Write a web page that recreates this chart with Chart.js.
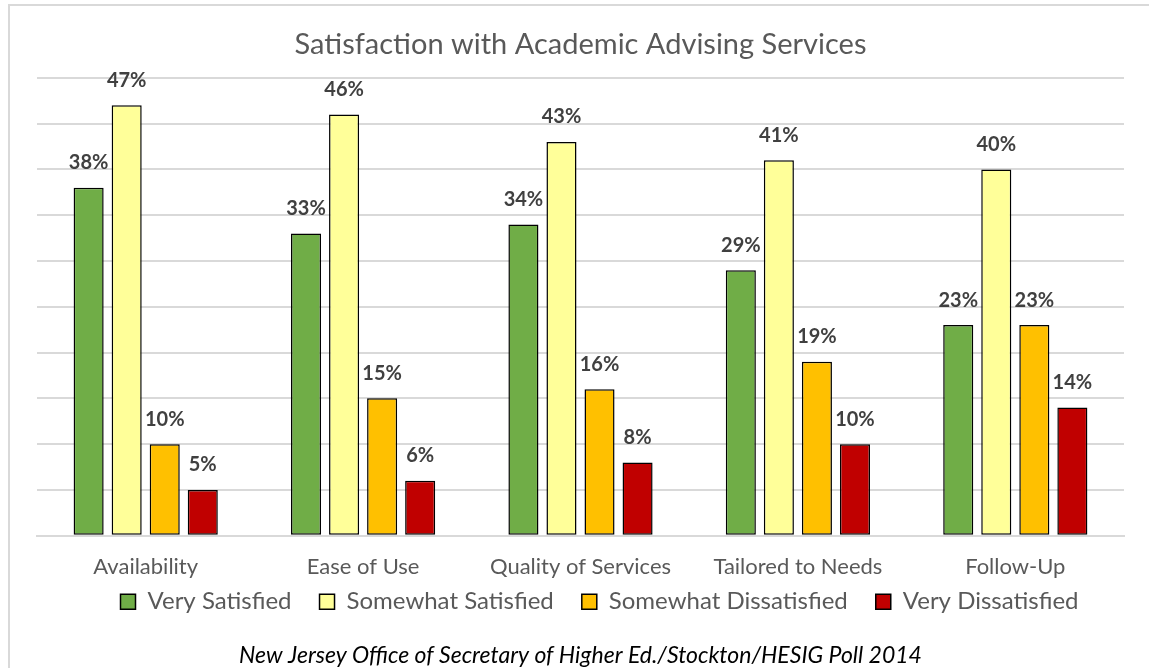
<!DOCTYPE html>
<html>
<head>
<meta charset="utf-8">
<title>Satisfaction with Academic Advising Services</title>
<script src="https://cdn.jsdelivr.net/npm/chart.js@4.4.1/dist/chart.umd.min.js"></script>
<style>
    html, body { margin: 0; padding: 0; background: #fff; overflow: hidden; }
    #frame {
        position: absolute; left: 8px; top: 4px; width: 1200px; height: 720px;
        border: 2px solid #d9d9d9; box-sizing: border-box;
    }
    #satisfactionChart { position: absolute; left: 0; top: 0; }
</style>
</head>
<body>
<div id="frame"></div>
<canvas id="satisfactionChart" width="1149" height="668"></canvas>
<script>
const categories = ['Availability', 'Ease of Use', 'Quality of Services', 'Tailored to Needs', 'Follow-Up'];
const seriesNames = ['Very Satisfied', 'Somewhat Satisfied', 'Somewhat Dissatisfied', 'Very Dissatisfied'];
const verySatisfied = [38, 33, 34, 29, 23];
const somewhatSatisfied = [47, 46, 43, 41, 40];
const somewhatDissatisfied = [10, 15, 16, 19, 23];
const veryDissatisfied = [5, 6, 8, 10, 14];
const seriesColors = ['#70AD47', '#FFFF99', '#FFC000', '#C00000'];
const caption = 'New Jersey Office of Secretary of Higher Ed./Stockton/HESIG Poll 2014';

const FONT = 'Lato, "Open Sans", sans-serif';

// percentage labels above every bar, plus a small nudge of the legend row
const barValueLabels = {
    id: 'barValueLabels',
    afterLayout(chart) {
        chart.legend.left += 28;
        chart.legend.right += 28;
    },
    afterDatasetsDraw(chart) {
        const ctx = chart.ctx;
        ctx.save();
        ctx.font = `bold 20px ${FONT}`;
        ctx.fillStyle = '#404040';
        ctx.textAlign = 'center';
        ctx.textBaseline = 'middle';
        chart.data.datasets.forEach((ds, i) => {
            chart.getDatasetMeta(i).data.forEach((bar, j) => {
                ctx.fillText(ds.data[j] + '%', bar.x, bar.y - 25);
            });
        });
        ctx.restore();
    }
};

function makeDataset(name, values, color) {
    return {
        label: name,
        data: values,
        backgroundColor: color,
        borderColor: '#000',
        borderWidth: 1.5,
        borderSkipped: false
    };
}

const ctx = document.getElementById('satisfactionChart').getContext('2d');
new Chart(ctx, {
    type: 'bar',
    data: {
        labels: categories,
        datasets: [
            makeDataset(seriesNames[0], verySatisfied, seriesColors[0]),
            makeDataset(seriesNames[1], somewhatSatisfied, seriesColors[1]),
            makeDataset(seriesNames[2], somewhatDissatisfied, seriesColors[2]),
            makeDataset(seriesNames[3], veryDissatisfied, seriesColors[3])
        ]
    },
    options: {
        responsive: false,
        animation: false,
        datasets: {
            bar: { categoryPercentage: 0.7, barPercentage: 0.79 }
        },
        layout: { padding: { left: 37, right: 25, top: 0, bottom: 0 } },
        scales: {
            x: {
                grid: { display: false, drawTicks: false },
                border: { color: '#d9d9d9', width: 2 },
                ticks: { padding: 18, color: '#595959', font: { family: FONT, size: 22 } },
                afterFit(scale) { scale.height = 44; }
            },
            y: {
                min: 0,
                max: 50,
                ticks: { display: false, stepSize: 5 },
                grid: { color: '#d9d9d9', lineWidth: 2, drawTicks: false },
                border: { display: false },
                afterFit(scale) { scale.width = 0; }
            }
        },
        plugins: {
            title: {
                display: true,
                text: 'Satisfaction with Academic Advising Services',
                color: '#595959',
                font: { family: FONT, size: 29, weight: 'normal' },
                padding: { top: 27.6, bottom: 15.5 }
            },
            legend: {
                position: 'bottom',
                labels: {
                    color: '#595959',
                    font: { family: FONT, size: 24 },
                    boxWidth: 15,
                    boxHeight: 15,
                    padding: 10,
                    generateLabels(chart) {
                        const items = Chart.defaults.plugins.legend.labels.generateLabels(chart);
                        items.forEach(it => { it.text = it.text + '\u2003'; it.lineWidth = 1.5; });
                        return items;
                    }
                }
            },
            subtitle: {
                display: true,
                position: 'bottom',
                text: caption,
                color: '#000',
                font: { family: FONT, size: 23, style: 'italic', lineHeight: 1.1 },
                padding: { top: 19, bottom: 0 }
            },
            tooltip: { enabled: false }
        }
    },
    plugins: [barValueLabels]
});
</script>
</body>
</html>
